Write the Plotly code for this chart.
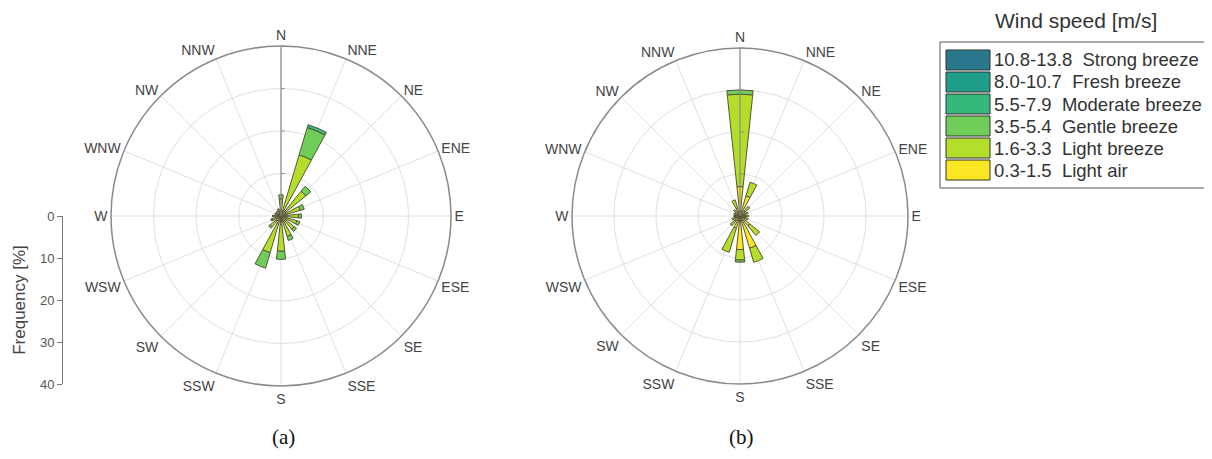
import plotly.graph_objects as go

W, H = 1212, 459
OFF = 8  # page body margin in the browser

directions = ["N", "NNE", "NE", "ENE", "E", "ESE", "SE", "SSE",
              "S", "SSW", "SW", "WSW", "W", "WNW", "NW", "NNW"]
angles = [i * 22.5 for i in range(16)]

speed_bins = ["0.3-1.5", "1.6-3.3", "3.5-5.4", "5.5-7.9", "8.0-10.7", "10.8-13.8"]
speed_names = ["Light air", "Light breeze", "Gentle breeze",
               "Moderate breeze", "Fresh breeze", "Strong breeze"]
colors = ["#fde725", "#b5de2b", "#6ece58", "#35b779", "#1f9e89", "#2a788e"]

# Frequency [%] per direction, panel (a)
a_light_air = [1.5, 1.0, 1.5, 1.5, 1.5, 1.5, 1.5, 1.5, 2.0, 2.0, 1.5, 1.2, 1.0, 0.8, 0.8, 0.8]
a_light_breeze = [2.5, 14.0, 6.0, 3.2, 2.6, 2.4, 2.5, 3.5, 6.3, 7.0, 1.7, 1.0, 0.8, 0.6, 0.6, 0.8]
a_gentle = [1.0, 6.7, 1.5, 1.0, 0.7, 0.7, 0.7, 1.0, 1.9, 3.8, 0.5, 0.3, 0.2, 0.1, 0.1, 0.2]
a_moderate = [0, 0.7, 0, 0, 0, 0, 0, 0, 0, 0, 0, 0, 0, 0, 0, 0]
a_fresh = [0] * 16
a_strong = [0] * 16

# Frequency [%] per direction, panel (b)
b_light_air = [7.0, 5.0, 1.5, 1.0, 1.0, 1.0, 3.0, 8.0, 8.0, 3.0, 1.5, 1.0, 0.8, 0.8, 1.0, 2.0]
b_light_breeze = [22.0, 3.4, 1.5, 1.0, 1.0, 1.0, 3.0, 3.5, 2.5, 6.0, 1.5, 1.0, 0.7, 0.7, 1.0, 2.0]
b_gentle = [1.0, 0, 0, 0, 0, 0, 0, 0, 0.5, 0, 0, 0, 0, 0, 0, 0]
b_moderate = [0] * 16
b_fresh = [0] * 16
b_strong = [0] * 16

freq_ticks = [0, 10, 20, 30, 40]

panel_a = [a_light_air, a_light_breeze, a_gentle, a_moderate, a_fresh, a_strong]
panel_b = [b_light_air, b_light_breeze, b_gentle, b_moderate, b_fresh, b_strong]

FONT = "Liberation Sans, Arial, sans-serif"


def px(x):
    return (x - OFF) / W


def py(y):
    return 1 - (y - OFF) / H


fig = go.Figure()

for series, polar in ((panel_a, "polar"), (panel_b, "polar2")):
    for vals, name, rng, col in zip(series, speed_names, speed_bins, colors):
        fig.add_trace(go.Barpolar(
            r=vals, theta=angles, width=12, name=f"{rng} {name}",
            marker=dict(color=col, line=dict(color="#55553a", width=1)),
            subplot=polar, showlegend=False,
        ))

# invisible trace carrying the external frequency axis
fig.add_trace(go.Scatter(x=[0, 0], y=[freq_ticks[0], freq_ticks[-1]], mode="markers",
                         marker=dict(opacity=0), showlegend=False, hoverinfo="skip"))


def polar_layout(x0, x1, y0, y1):
    return dict(
        domain=dict(x=[px(x0), px(x1)], y=[py(y1), py(y0)]),
        bgcolor="white",
        barmode="stack",
        angularaxis=dict(
            tickmode="array", tickvals=angles, ticktext=directions,
            direction="clockwise", rotation=90,
            showline=True, linecolor="#8a8a8a", linewidth=1.5,
            showgrid=True, gridcolor="#e0e0e0", gridwidth=1, ticks="",
            tickfont=dict(family=FONT, size=14, color="#444"),
        ),
        radialaxis=dict(
            range=[0, 40], tickvals=[10, 20, 30, 40], showticklabels=False,
            showgrid=True, gridcolor="#e0e0e0", gridwidth=1, showline=True, linecolor="#8a8a8a",
            linewidth=1.2, angle=90, ticks="outside", ticklen=3, tickcolor="#8a8a8a",
        ),
    )


fig.update_layout(
    template="none",
    width=W, height=H,
    margin=dict(l=0, r=0, t=0, b=0, pad=0, autoexpand=False),
    paper_bgcolor="white", plot_bgcolor="white",
    showlegend=False,
    font=dict(family=FONT),
    polar=polar_layout(111, 451, 46, 386),
    polar2=polar_layout(572, 908, 48, 384),
    xaxis=dict(domain=[0, 0.04], visible=False),
    yaxis=dict(
        domain=[py(384), py(216)], range=[40, 0], anchor="free", position=px(62),
        automargin=False,
        showline=True, linecolor="#777", linewidth=1, ticks="outside", ticklen=5,
        tickcolor="#777", tickvals=freq_ticks, showgrid=False, zeroline=False,
        tickfont=dict(family=FONT, size=13, color="#555"),
        title=dict(text="Frequency [%]", standoff=8,
                   font=dict(family=FONT, size=17, color="#444")),
    ),
)

# manual legend (swatches drawn large, like the reference)
shapes = [dict(type="rect", xref="paper", yref="paper",
               x0=px(940), x1=px(1208), y0=py(188), y1=py(42),
               line=dict(color="#555", width=1), fillcolor="rgba(0,0,0,0)")]
annotations = [dict(text="Wind speed [m/s]", x=px(1076), y=1.0, xref="paper", yref="paper",
                    showarrow=False, xanchor="center", yanchor="top", borderpad=0,
                    font=dict(family=FONT, size=21, color="#333"))]
for i, (rng, name, col) in enumerate(zip(speed_bins[::-1], speed_names[::-1], colors[::-1])):
    yc = 60 + i * 22
    shapes.append(dict(type="rect", xref="paper", yref="paper",
                       x0=px(946), x1=px(990), y0=py(yc + 10), y1=py(yc - 10),
                       line=dict(color="#333", width=1), fillcolor=col))
    annotations.append(dict(text=f"{rng}  {name}", x=px(992), y=py(yc), xref="paper", yref="paper",
                            showarrow=False, xanchor="left", yanchor="middle",
                            font=dict(family=FONT, size=18.5, color="#333")))

for label, xc in (("(a)", 283), ("(b)", 742)):
    annotations.append(dict(text=label, x=px(xc), y=py(437), xref="paper", yref="paper",
                            showarrow=False, xanchor="center", yanchor="middle",
                            font=dict(family="Liberation Serif, Times New Roman, serif",
                                      size=21, color="#111")))

fig.update_layout(shapes=shapes, annotations=annotations)
fig.write_html("out.html")
